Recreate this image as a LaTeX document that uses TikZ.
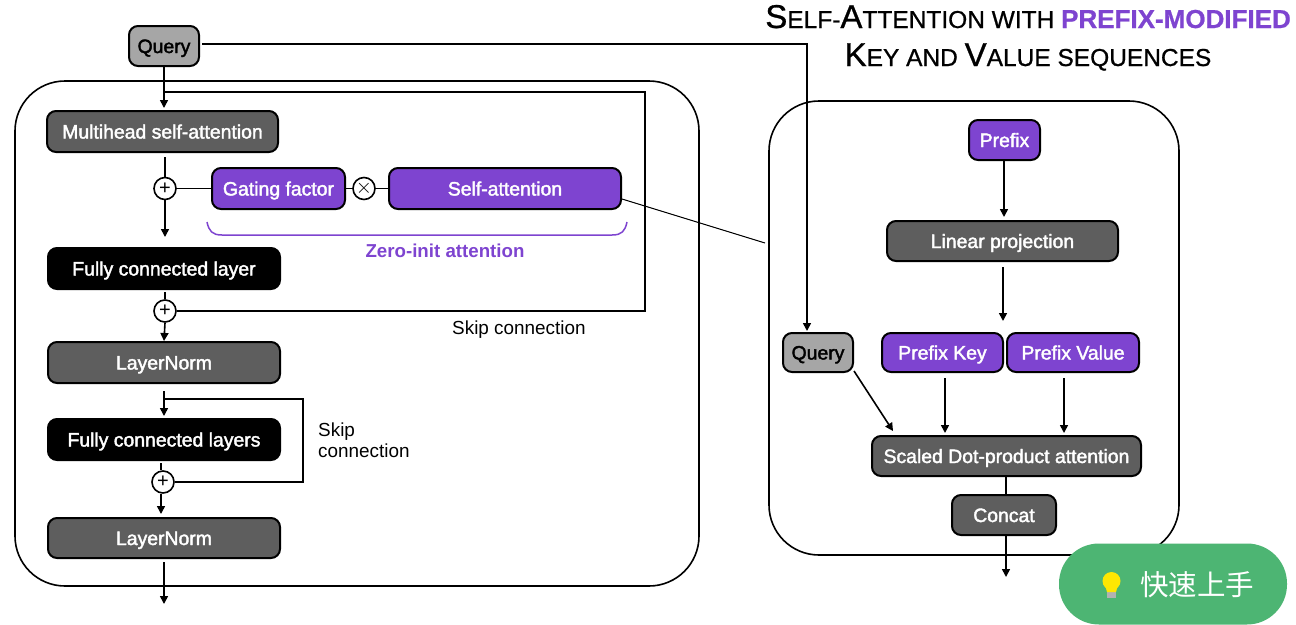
\documentclass[tikz,border=0pt]{standalone}
\usepackage{fontspec}
\setmainfont{Liberation Sans}
\newfontfamily\lblfont[FakeBold=2]{Liberation Sans}
\newfontfamily\titlefont[FakeBold=0.8]{Liberation Sans}
\newfontfamily\cjkfont{Noto Sans CJK SC}
\usetikzlibrary{arrows.meta,calc}
\definecolor{darkgr}{HTML}{5E5E5E}
\definecolor{lightgr}{HTML}{A6A6A6}
\definecolor{purp}{HTML}{7E44D0}
\definecolor{pillgreen}{HTML}{4DB573}
\newcommand{\bx}[7]{\node[#6,minimum width={(#4-#2)*1pt},minimum height={(#5-#3)*1pt}] (#1) at ({(#2+#4)/2},{(#3+#5)/2}) {#7};}
\newcommand{\SCb}[1]{{\fontsize{33}{33}\selectfont #1}}
\newcommand{\SCs}[1]{{\fontsize{24.5}{25}\selectfont #1}}
\tikzset{
  x=1pt,y=-1pt,
  box/.style={rectangle,rounded corners=9pt,draw=black,line width=2pt,inner sep=0pt,text height=14pt,text depth=0pt,font=\lblfont\fontsize{19.4}{20}\selectfont},
  graybox/.style={box,fill=darkgr,text=white},
  blackbox/.style={box,fill=black,text=white},
  purplebox/.style={box,fill=purp,text=white},
  querybox/.style={box,fill=lightgr,text=black},
  panel/.style={draw=black,line width=1.6pt,rounded corners=50pt},
  opnode/.style={circle,draw=black,line width=1.6pt,fill=white,minimum size=22pt,inner sep=0pt,font=\fontsize{20}{20}\selectfont},
  conn/.style={draw=black,line width=1.6pt},
  arr/.style={conn,-{Triangle[length=8pt,width=8pt]}},
  note/.style={font=\fontsize{18.9}{21}\selectfont,text=black,inner sep=0pt},
}
\begin{document}
\begin{tikzpicture}
\useasboundingbox (0,0) rectangle (1296,624);
\fill[white] (0,0) rectangle (1296,624);
% panels
\draw[panel] (15,81) rectangle (699,586);
\draw[panel] (769,101) rectangle (1179,555);
% left nodes
\bx{q1}{129}{26}{199}{66}{querybox}{Query}
\bx{mh}{47}{111}{278}{152}{graybox}{Multihead self-attention}
\bx{gate}{212}{168}{345}{209}{purplebox}{Gating factor}
\bx{sa}{389}{168}{621}{209}{purplebox}{Self-attention}
\bx{fc}{48}{248}{280}{289}{blackbox}{Fully connected layer}
\bx{ln1}{48}{342}{280}{383}{graybox}{LayerNorm}
\bx{fcs}{48}{419}{280}{460}{blackbox}{Fully connected layers}
\bx{ln2}{48}{518}{280}{558}{graybox}{LayerNorm}
\node[opnode] (p1) at (165,188.5) {+};
\node[opnode] (times) at (364,188.5) {$\times$};
\node[opnode] (p2) at (165,311) {+};
\node[opnode] (p3) at (163,482) {+};
% right nodes
\bx{pre}{969}{120}{1040}{160}{purplebox}{Prefix}
\bx{lin}{887}{221}{1118}{261}{graybox}{Linear projection}
\bx{q2}{783}{333}{853}{372}{querybox}{Query}
\bx{pk}{882}{333}{1003}{372}{purplebox}{Prefix Key}
\bx{pv}{1007}{333}{1139}{372}{purplebox}{Prefix Value}
\bx{sdp}{872}{436}{1141}{476}{graybox}{Scaled Dot-product attention}
\bx{con}{952}{495}{1056}{535}{graybox}{Concat}
% free ends
\coordinate (j1) at (164,92);
\coordinate (j1r) at (645,92);
\coordinate (j1d) at (645,311);
\coordinate (mhout) at (165,157);
\coordinate (p1end) at (165,237);
\coordinate (fcout) at (165,292);
\coordinate (ln1out) at (164,391);
\coordinate (fcsin) at (164,416);
\coordinate (j2) at (164,399);
\coordinate (j2r) at (303,399);
\coordinate (j2d) at (303,482);
\coordinate (fcsout) at (161,463);
\coordinate (p3end) at (161,514);
\coordinate (ln2out) at (164,562);
\coordinate (end1) at (164,604);
\coordinate (qr) at (202,44);
\coordinate (qc) at (807,44);
\coordinate (qd) at (807,331);
\coordinate (satail) at (765,243);
\coordinate (preout) at (1004,161);
\coordinate (linin) at (1004,217);
\coordinate (lin1) at (1003,267);
\coordinate (lin2) at (1003,321);
\coordinate (qs1) at (854,371);
\coordinate (qs2) at (893,431);
\coordinate (pk1) at (945,378);
\coordinate (pk2) at (945,433);
\coordinate (pv1) at (1064,378);
\coordinate (pv2) at (1064,433);
\coordinate (sdpb) at (1006,476);
\coordinate (conb) at (1006,495);
\coordinate (conc) at (1006,535);
\coordinate (end2) at (1006,577);
% left connectors
\draw[arr] (q1.south) -- (164,108);
\draw[conn] (j1) -- (j1r) -- (j1d) -- (p2.east);
\draw[conn] (mhout) -- (p1.north);
\draw[arr] (p1.south) -- (p1end);
\draw[conn] (p1.east) -- (gate.west);
\draw[conn] (gate.east) -- (times.west);
\draw[conn] (times.east) -- (sa.west);
\draw[conn] (fcout) -- (p2.north);
\draw[arr] (p2.south) -- (ln1.north);
\draw[arr] (ln1out) -- (fcsin);
\draw[conn] (j2) -- (j2r) -- (j2d) -- (p3.east);
\draw[conn] (fcsout) -- (fcsout |- p3.north);
\draw[arr] (p3end |- p3.south) -- (p3end);
\draw[arr] (ln2out) -- (end1);
% right connectors
\draw[arr] (qr) -- (qc) -- (qd);
\draw[conn,line width=1pt] (sa.east |- 0,199) -- (satail);
\draw[arr] (preout) -- (linin);
\draw[arr] (lin1) -- (lin2);
\draw[arr] (qs1) -- (qs2);
\draw[arr] (pk1) -- (pk2);
\draw[arr] (pv1) -- (pv2);
\draw[conn] (sdpb) -- (conb);
\draw[arr] (conc) -- (end2);
% brace
\draw[purp,line width=1.5pt] (207,222) .. controls (209,231) and (212,235) .. (222,235) -- (612,235) .. controls (622,235) and (625,231) .. (627,222);
% labels
\node[inner sep=0pt,text=purp,anchor=base,font=\bfseries\fontsize{18.7}{20}\selectfont] (zero) at (445,257) {Zero-init attention};
\node[note,anchor=base west] (skip1) at (452,334) {Skip connection};
\node[note,anchor=north west,align=left] (skip2) at (318,423) {Skip\\connection};
% title
\node[inner sep=0pt,anchor=base east,text=black,font=\titlefont] (t1) at (1291,28) {\SCb{S}\SCs{ELF-}\SCb{A}\SCs{TTENTION WITH }{\color{purp}\bfseries\fontsize{26}{26}\selectfont PREFIX-MODIFIED}};
\node[inner sep=0pt,anchor=base,font=\titlefont] (t2) at (1028,66) {\SCb{K}\SCs{EY AND }\SCb{V}\SCs{ALUE SEQUENCES}};
% pill
\node[fill=pillgreen,rounded corners=40pt,minimum width=228pt,minimum height=81pt,inner sep=0pt] (pill) at (1173,584) {};
\node[inner sep=0pt,text=white,font=\cjkfont\fontsize{28.5}{28.5}\selectfont,anchor=west] (pilltext) at (1140,585) {快速上手};
\fill[gray!60] (1107,590) rectangle (1116,598);
\fill[yellow!90!orange] (1111.5,581) circle (9pt);
\fill[yellow!90!orange] (1105,585) -- (1118,585) -- (1116,592) -- (1107,592) -- cycle;
\end{tikzpicture}
\end{document}
